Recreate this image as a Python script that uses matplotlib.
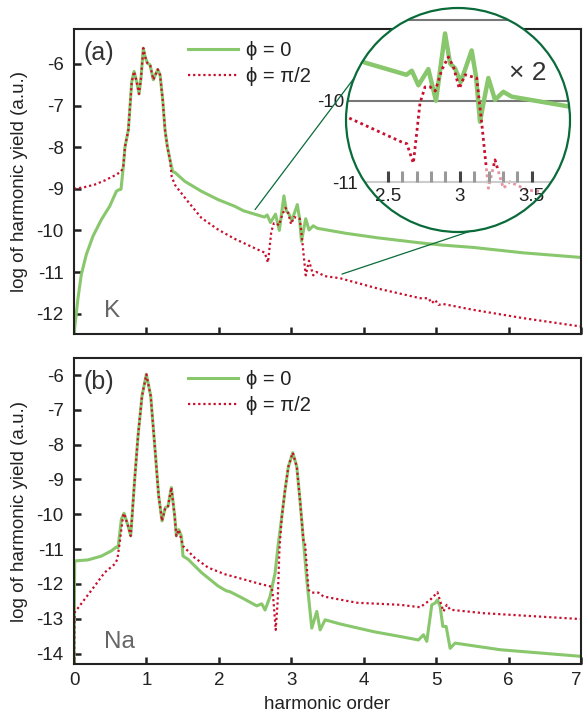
import numpy as np
import matplotlib.pyplot as plt
from matplotlib.patches import Circle, Rectangle, ConnectionPatch

plt.rcParams['font.family'] = ['Liberation Sans', 'DejaVu Sans']
plt.rcParams['axes.unicode_minus'] = False

GREEN = '#88c76c'
RED = '#c8102e'
DARK = '#222222'
RING = '#0a6b3a'

# ---- panel (a): K ----
k_x0 = [0.0, 0.009, 0.055, 0.101, 0.170, 0.262, 0.378, 0.493, 0.585, 0.612, 0.649,
        0.681, 0.704, 0.750, 0.773, 0.797, 0.829, 0.866, 0.898, 0.925, 0.957, 0.981,
        1.013, 1.050, 1.095, 1.156, 1.188, 1.225, 1.257, 1.289, 1.326, 1.363, 1.395,
        1.529, 1.759, 1.989, 2.219, 2.342, 2.630, 2.667, 2.713, 2.782, 2.835, 2.898,
        2.933, 2.967, 3.007, 3.083, 3.113, 3.141, 3.169, 3.199, 3.245, 3.303, 3.361,
        3.754, 4.200, 4.780, 5.060, 5.515, 6.206, 7.0]
k_y0 = [-12.8, -12.35, -11.63, -11.06, -10.58, -10.14, -9.74, -9.42, -9.06, -9.03, -9.01,
        -8.47, -7.99, -7.59, -7.03, -6.43, -6.18, -6.43, -6.72, -6.34, -5.62, -5.82,
        -5.98, -6.02, -6.38, -6.13, -6.26, -6.87, -7.59, -7.99, -8.31, -8.59, -8.61,
        -8.82, -9.06, -9.26, -9.42, -9.53, -9.68, -9.63, -9.81, -9.61, -10.00, -9.17,
        -9.54, -9.60, -9.77, -9.38, -9.70, -10.26, -9.99, -9.72, -9.99, -9.89, -9.95,
        -10.07, -10.18, -10.30, -10.35, -10.41, -10.54, -10.65]

k_x1 = [0.0, 0.009, 0.147, 0.285, 0.424, 0.562, 0.649, 0.681, 0.704, 0.750, 0.773,
        0.797, 0.829, 0.866, 0.898, 0.925, 0.957, 0.981, 1.013, 1.050, 1.095, 1.156,
        1.188, 1.225, 1.257, 1.289, 1.326, 1.349, 1.395, 1.556, 1.759, 1.989, 2.215,
        2.597, 2.632, 2.678, 2.724, 2.759, 2.794, 2.830, 2.875, 2.921, 2.956, 2.997,
        3.037, 3.118, 3.153, 3.199, 3.245, 3.303, 3.349, 3.465, 3.674, 4.200, 4.780,
        4.894, 4.940, 4.986, 5.032, 5.100, 5.515, 6.206, 7.0]
k_y1 = [-9.00, -9.00, -8.96, -8.90, -8.80, -8.68, -8.59, -8.47, -7.99, -7.59, -7.03,
        -6.43, -6.18, -6.43, -6.72, -6.34, -5.62, -5.82, -5.98, -6.02, -6.38, -6.13,
        -6.26, -6.87, -7.59, -7.99, -8.31, -8.71, -8.91, -9.27, -9.70, -9.98, -10.20,
        -10.51, -10.53, -10.77, -10.03, -9.83, -9.83, -9.88, -9.62, -9.46, -9.58, -9.85,
        -9.68, -9.72, -10.28, -11.08, -10.73, -11.08, -11.00, -11.10, -11.15, -11.40, -11.63,
        -11.63, -11.75, -11.67, -11.79, -11.77, -11.91, -12.11, -12.31]

# ---- panel (b): Na ----
na_x0 = [0.0, 0.009, 0.193, 0.378, 0.516, 0.585, 0.608, 0.654, 0.691, 0.746, 0.783,
         0.838, 0.884, 0.939, 0.999, 1.059, 1.115, 1.169, 1.215, 1.261, 1.298, 1.344,
         1.390, 1.413, 1.446, 1.482, 1.505, 1.574, 1.758, 1.989, 2.104, 2.150, 2.311,
         2.523, 2.592, 2.638, 2.707, 2.776, 2.822, 2.869, 2.914, 2.960, 3.020, 3.076,
         3.120, 3.167, 3.214, 3.283, 3.352, 3.398, 3.467, 3.674, 4.134, 4.503, 4.756,
         4.825, 4.871, 4.940, 4.986, 5.018, 5.055, 5.092, 5.138, 5.193, 5.262, 5.884, 7.0]
na_y0 = [-14.6, -11.34, -11.31, -11.20, -11.05, -10.94, -10.96, -10.14, -9.97, -10.33, -10.62,
         -8.99, -7.75, -6.60, -5.98, -6.60, -8.04, -9.47, -10.19, -9.81, -9.77, -9.23,
         -10.05, -10.62, -10.44, -10.62, -11.20, -11.29, -11.67, -12.06, -12.20, -12.22, -12.39,
         -12.63, -12.57, -12.75, -12.36, -11.69, -10.83, -10.07, -9.30, -8.63, -8.23, -8.63,
         -9.59, -10.74, -11.88, -13.27, -12.79, -13.32, -13.03, -13.15, -13.37, -13.51, -13.61,
         -13.46, -13.65, -12.60, -12.55, -12.46, -12.65, -13.22, -13.22, -13.85, -13.70, -13.89, -14.08]

na_x1 = [0.0, 0.009, 0.147, 0.285, 0.424, 0.562, 0.599, 0.631, 0.677, 0.691, 0.746,
         0.783, 0.838, 0.884, 0.939, 0.999, 1.059, 1.115, 1.169, 1.215, 1.261, 1.298,
         1.344, 1.390, 1.413, 1.446, 1.505, 1.667, 1.851, 2.081, 2.311, 2.569, 2.730,
         2.753, 2.785, 2.813, 2.836, 2.869, 2.914, 2.960, 3.020, 3.076, 3.120, 3.167,
         3.190, 3.237, 3.283, 3.375, 3.444, 3.904, 4.503, 4.779, 4.917, 5.018, 5.064,
         5.101, 5.147, 5.193, 5.654, 7.0]
na_y1 = [-14.6, -12.82, -12.44, -12.06, -11.67, -11.43, -11.29, -10.81, -10.05, -9.97, -10.33,
         -10.62, -8.99, -7.75, -6.60, -5.98, -6.60, -8.04, -9.47, -10.19, -9.81, -9.77,
         -9.23, -10.05, -10.62, -10.44, -10.91, -11.25, -11.53, -11.72, -11.85, -12.00, -12.08,
         -12.46, -13.32, -12.46, -11.02, -10.07, -9.30, -8.63, -8.23, -8.63, -9.59, -10.74,
         -10.83, -12.17, -12.25, -12.25, -12.36, -12.54, -12.60, -12.67, -12.46, -12.24, -12.55,
         -12.79, -12.60, -12.74, -12.84, -13.01]

labels = ['\u03d5 = 0', '\u03d5 = \u03c0/2']
x_ticks = list(range(0, 8))
inset_ticks = [2.5, 3.0, 3.5]
inset_minor = [2.6, 2.7, 2.8, 2.9, 3.1, 3.2, 3.3, 3.4]
zoom_from = [(2.5, -9.5), (3.7, -11.05)]

fig = plt.figure(figsize=(5.84, 7.15), dpi=100)
ax1 = fig.add_axes([74 / 584, 1 - 334 / 715, 507 / 584, 305 / 715])
ax2 = fig.add_axes([74 / 584, 1 - 664 / 715, 507 / 584, 306 / 715])


def style(ax, ylim, yticks, show_xlabels):
    ax.set_xlim(0, 7)
    ax.set_ylim(*ylim)
    ax.set_xticks(x_ticks)
    ax.set_yticks(yticks)
    ax.set_yticklabels([f"{t:d}" for t in yticks])
    ax.tick_params(direction='in', length=5, width=1.8, color=DARK, labelsize=13.5,
                   labelcolor=DARK, top=False, right=False)
    ax.tick_params(axis='x', pad=5.5)
    ax.tick_params(axis='y', pad=7.5)
    if show_xlabels:
        lab = ax.get_xticklabels()
        lab[-1].set_horizontalalignment('right')
    else:
        ax.set_xticklabels([])
    for s in ax.spines.values():
        s.set_linewidth(1.5)
        s.set_color(DARK)
    ax.set_ylabel('log of harmonic yield (a.u.)', fontsize=13.5, color=DARK)
    ax.yaxis.set_label_coords(-0.09, 0.5)


for ax, xs0, ys0, xs1, ys1 in [(ax1, k_x0, k_y0, k_x1, k_y1),
                               (ax2, na_x0, na_y0, na_x1, na_y1)]:
    ax.plot(xs0, ys0, color=GREEN, lw=2.2, solid_joinstyle='round', label=labels[0])
    ax.plot(xs1, ys1, color=RED, lw=1.6, linestyle=(0, (1, 1.3)), label=labels[1])
    ax.legend(loc='upper left', bbox_to_anchor=(0.225, 0.962), frameon=False,
              fontsize=14.5, handlelength=2.5, handletextpad=0.4, labelspacing=0.37,
              borderpad=0, borderaxespad=0, labelcolor=DARK)

style(ax1, (-12.49, -5.16), list(range(-12, -5)), False)
style(ax2, (-14.30, -5.51), list(range(-14, -5)), True)
ax2.set_xlabel('harmonic order', fontsize=13.5, color=DARK)
ax2.xaxis.set_label_coords(0.5, -0.105)

ax1.text(0.018, 0.92, '(a)', transform=ax1.transAxes, fontsize=18, color='#333333', va='center')
ax2.text(0.018, 0.92, '(b)', transform=ax2.transAxes, fontsize=18, color='#333333', va='center')
ax1.text(0.059, 0.055, 'K', transform=ax1.transAxes, fontsize=17.5, color='#666666', va='baseline')
ax2.text(0.059, 0.053, 'Na', transform=ax2.transAxes, fontsize=17.5, color='#666666', va='baseline')

# ---- circular magnified inset of panel (a) ----
ax_in = fig.add_axes([346 / 584, 1 - 232 / 715, 224 / 584, 224 / 715])
ax_in.set_xlim(2.21, 3.766)
ax_in.set_ylim(-11.62, -8.856)
ax_in.patch.set_visible(False)
ax_in.set_axisbelow(False)
disk = Circle((0.5, 0.5), 0.5, transform=ax_in.transAxes, facecolor='white',
              edgecolor='none', zorder=0, clip_on=False)
ax_in.add_patch(disk)
ring = Circle((0.5, 0.5), 0.5, transform=ax_in.transAxes, facecolor='none',
              edgecolor=RING, lw=1.6, zorder=10, clip_on=False)
ax_in.add_patch(ring)

for yv, c in [(-9, '#777777'), (-10, '#777777')]:
    ln = ax_in.axhline(yv, color=c, lw=1.5, zorder=1)
    ln.set_clip_path(disk)

g = ax_in.plot(k_x0, k_y0, color=GREEN, lw=3.2, solid_joinstyle='round', zorder=2)[0]
r = ax_in.plot(k_x1, k_y1, color=RED, lw=2.0, linestyle=(0, (1, 1.2)), zorder=2.1)[0]
g.set_clip_path(disk)
r.set_clip_path(disk)
fade = Rectangle((2.2, -11.7), 1.6, 0.87, facecolor='white', alpha=0.55,
                 edgecolor='none', zorder=2.2)
ax_in.add_patch(fade)
fade.set_clip_path(disk)

for side in ['left', 'right', 'top']:
    ax_in.spines[side].set_visible(False)
ax_in.spines['bottom'].set_position(('data', -11))
ax_in.spines['bottom'].set_color('#cccccc')
ax_in.spines['bottom'].set_linewidth(1.5)
ax_in.spines['bottom'].set_clip_path(disk)
ax_in.set_yticks([])
ax_in.set_xticks(inset_ticks)
ax_in.set_xticks(inset_minor, minor=True)
ax_in.set_xticklabels([])
ax_in.tick_params(axis='x', which='major', direction='in', length=8, width=2.2, color='#444444')
ax_in.tick_params(axis='x', which='minor', direction='in', length=8, width=2.2, color='#999999')
for v, s in zip(inset_ticks, ['2.5', '3', '3.5']):
    t = ax_in.text(v, -11.08, s, ha='center', va='top', fontsize=13.5, color=DARK, zorder=3)
    t.set_clip_path(disk)
ax_in.text(2.197, -10.02, '-10', ha='right', va='center', fontsize=13.5, color=DARK)
ax_in.text(2.294, -11.04, '-11', ha='right', va='center', fontsize=13.5, color=DARK)
ax_in.text(0.81, 0.71, '\u00d7 2', transform=ax_in.transAxes, fontsize=19,
           ha='center', va='center', color='#333333')

for (xa, ya), ang in zip(zoom_from, [158, 276]):
    a = np.deg2rad(ang)
    con = ConnectionPatch(xyA=(xa, ya), coordsA=ax1.transData,
                          xyB=(0.5 + 0.5 * np.cos(a), 0.5 + 0.5 * np.sin(a)),
                          coordsB=ax_in.transAxes, color=RING, lw=0.9)
    fig.add_artist(con)

fig.savefig('out.png', dpi=100)
